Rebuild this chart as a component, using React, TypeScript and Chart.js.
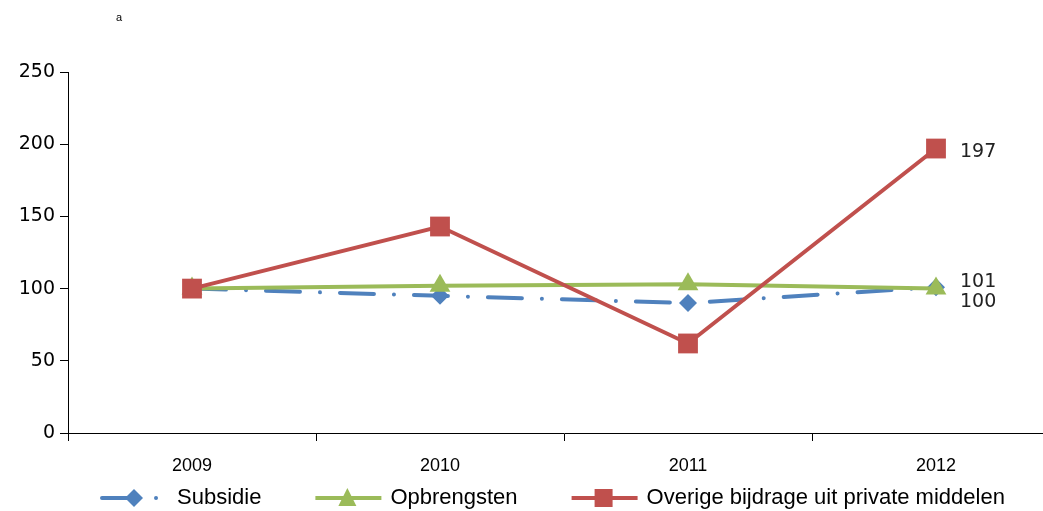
import React, { useEffect, useRef } from 'react';
import { Chart, registerables } from 'chart.js';

Chart.register(...registerables);

const years = ['2009', '2010', '2011', '2012'];
const subsidie = [100, 95, 90, 101];
const opbrengsten = [100, 102, 103, 100];
const overige = [100, 143, 62, 197];
const seriesNames = ['Subsidie', 'Opbrengsten', 'Overige bijdrage uit private middelen'];
const seriesColors = ['#4F81BD', '#9BBB59', '#C0504D'];
const yMin = 0;
const yMax = 250;
const yStep = 50;
const noteText = 'a';

const BLUE_DASH = [34, 20, 0.01, 20];

function drawMarker(ctx: CanvasRenderingContext2D, kind: string, x: number, y: number, color: string) {
  ctx.save();
  ctx.fillStyle = color;
  ctx.beginPath();
  if (kind === 'diamond') {
    const r = 9;
    ctx.moveTo(x, y - r);
    ctx.lineTo(x + r, y);
    ctx.lineTo(x, y + r);
    ctx.lineTo(x - r, y);
  } else if (kind === 'triangle') {
    const r = 10;
    ctx.moveTo(x, y - r);
    ctx.lineTo(x + r * 0.9, y + r * 0.8);
    ctx.lineTo(x - r * 0.9, y + r * 0.8);
  } else {
    const s = 9;
    ctx.rect(x - s, y - s, 2 * s, 2 * s);
  }
  ctx.closePath();
  ctx.fill();
  ctx.restore();
}

const decorPlugin = {
  id: 'decor',
  afterDraw(chart: any) {
    const ctx: CanvasRenderingContext2D = chart.ctx;
    ctx.save();
    ctx.fillStyle = '#000';
    ctx.font = '11px "Liberation Sans", Arial, sans-serif';
    ctx.textBaseline = 'middle';
    ctx.textAlign = 'left';
    ctx.fillText(noteText, 116, 18);

    const arrays = [subsidie, opbrengsten, overige];
    const offsets = [-5, 13, 4];
    ctx.font = '19px "DejaVu Sans", sans-serif';
    ctx.fillStyle = '#222';
    arrays.forEach((arr, i) => {
      const meta = chart.getDatasetMeta(i);
      const pt = meta.data[arr.length - 1];
      if (!pt) return;
      ctx.fillText(String(arr[arr.length - 1]), pt.x + 24, pt.y + offsets[i]);
    });

    const markers = ['diamond', 'triangle', 'square'];
    const ly = 498;
    let x = 100;
    ctx.font = '22px "Liberation Sans", Arial, sans-serif';
    seriesNames.forEach((name, i) => {
      ctx.save();
      ctx.strokeStyle = seriesColors[i];
      ctx.lineWidth = 4;
      if (i === 0) {
        ctx.setLineDash(BLUE_DASH);
        ctx.lineCap = 'round';
      } else {
        ctx.lineCap = 'butt';
      }
      ctx.beginPath();
      ctx.moveTo(x + 2, ly);
      ctx.lineTo(x + 68, ly);
      ctx.stroke();
      ctx.restore();
      drawMarker(ctx, markers[i], x + 34, ly, seriesColors[i]);
      ctx.fillStyle = '#000';
      ctx.textBaseline = 'middle';
      ctx.fillText(name, x + 77, ly);
      x = x + 77 + ctx.measureText(name).width + 52;
    });
    ctx.restore();
  },
};

export default function App() {
  const ref = useRef<HTMLCanvasElement | null>(null);
  useEffect(() => {
    if (!ref.current) return;
    const chart = new Chart(ref.current, {
      type: 'line',
      data: {
        labels: years,
        datasets: [
          {
            label: seriesNames[0],
            data: subsidie,
            borderColor: seriesColors[0],
            backgroundColor: seriesColors[0],
            borderWidth: 4,
            borderDash: BLUE_DASH,
            borderCapStyle: 'round',
            pointStyle: 'rectRot',
            pointRadius: 9,
            pointBorderWidth: 0,
            tension: 0,
            order: 2,
          },
          {
            label: seriesNames[1],
            data: opbrengsten,
            borderColor: seriesColors[1],
            backgroundColor: seriesColors[1],
            borderWidth: 4,
            pointStyle: 'triangle',
            pointRadius: 12,
            pointBorderWidth: 0,
            tension: 0,
            order: 1,
          },
          {
            label: seriesNames[2],
            data: overige,
            borderColor: seriesColors[2],
            backgroundColor: seriesColors[2],
            borderWidth: 4,
            pointStyle: 'rect',
            pointRadius: 14,
            pointBorderWidth: 0,
            tension: 0,
            order: 0,
          },
        ],
      },
      options: {
        responsive: false,
        animation: false,
        events: [],
        layout: { padding: { left: 0, right: 0, top: 72, bottom: 0 } },
        plugins: {
          legend: { display: false },
          tooltip: { enabled: false },
          title: { display: false },
        },
        scales: {
          x: {
            type: 'category',
            offset: true,
            grid: {
              display: true,
              drawOnChartArea: false,
              drawTicks: true,
              tickLength: 8,
              color: '#000',
              offset: true,
            },
            border: { display: true, color: '#000', width: 1 },
            ticks: {
              color: '#000',
              padding: 14,
              font: { family: '"Liberation Sans", Arial, sans-serif', size: 18 },
              maxRotation: 0,
            },
            afterFit: (scale: any) => {
              scale.height = 78;
            },
          },
          y: {
            min: yMin,
            max: yMax,
            grid: {
              display: true,
              drawOnChartArea: false,
              drawTicks: true,
              tickLength: 8,
              color: '#000',
            },
            border: { display: true, color: '#000', width: 1 },
            ticks: {
              stepSize: yStep,
              color: '#000',
              padding: 5,
              font: { family: '"DejaVu Sans", sans-serif', size: 19 },
            },
            afterFit: (scale: any) => {
              scale.width = 68;
            },
          },
        },
      },
      plugins: [decorPlugin],
    } as any);
    return () => chart.destroy();
  }, []);

  return (
    <div
      style={{
        position: 'fixed',
        left: 0,
        top: 0,
        width: 1043,
        height: 511,
        overflow: 'hidden',
        background: '#fff',
      }}
    >
      <canvas ref={ref} width={1074} height={511} style={{ display: 'block', width: 1074, height: 511 }} />
    </div>
  );
}
